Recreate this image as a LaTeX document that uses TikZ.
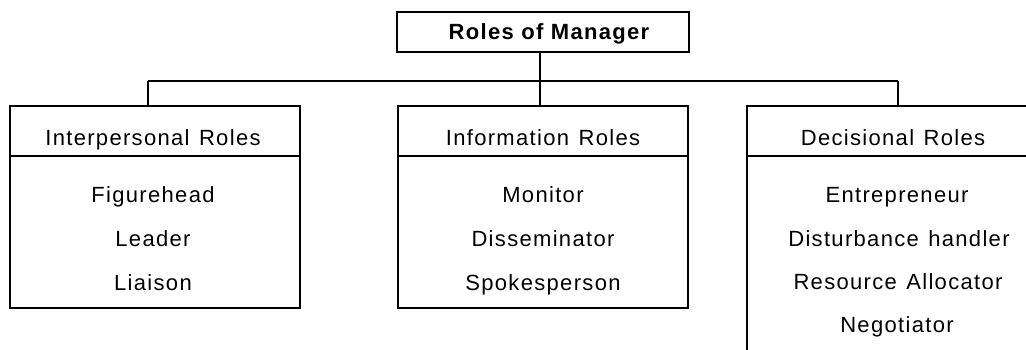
\documentclass[tikz,border=0pt]{standalone}
\usepackage{fontspec}
\setmainfont{Liberation Sans}[LetterSpace=6]
\begin{document}
\begin{tikzpicture}[x=1pt,y=-1pt,
  box/.style={draw, line width=1.7pt, rectangle, inner sep=0pt},
  lbl/.style={anchor=base, inner sep=0pt, font=\fontsize{22}{26}\selectfont},
  wire/.style={line width=1.7pt}]
\useasboundingbox (0,0) rectangle (1026,350);
% boxes
\node[box, minimum width=292pt, minimum height=40pt] (T) at (543,32) {};
\node[box, minimum width=290pt, minimum height=202pt] (L) at (155,207) {};
\node[box, minimum width=290pt, minimum height=202pt] (M) at (543,207) {};
\node[box, minimum width=300pt, minimum height=280pt] (R) at (897,246) {};
% header dividers
\coordinate (hdr) at (0,156);
\draw[wire] (L.west |- hdr) -- (L.east |- hdr);
\draw[wire] (M.west |- hdr) -- (M.east |- hdr);
\draw[wire] (R.west |- hdr) -- (R.east |- hdr);
% connectors
\coordinate (bus) at (540,81);
\coordinate (jL) at (148,81);
\coordinate (jR) at (898,81);
\draw[wire] (jL) -- (jR);
\draw[wire] (bus |- T.south) -- (bus |- M.north);
\draw[wire] (jL) -- (jL |- L.north);
\draw[wire] (jR) -- (jR |- R.north);
% texts
\node[lbl, font=\fontsize{22}{26}\selectfont\bfseries] (t0) at (549,40) {Roles of Manager};
\node[lbl] (l0) at (153,146) {Interpersonal\hspace{2pt} Roles};
\node[lbl] (l1) at (153,202) {Figurehead};
\node[lbl] (l2) at (153,246) {Leader};
\node[lbl] (l3) at (153,290) {Liaison};
\node[lbl] (m0) at (543,146) {Information\hspace{2pt} Roles};
\node[lbl] (m1) at (543,202) {Monitor};
\node[lbl] (m2) at (543,246) {Disseminator};
\node[lbl] (m3) at (543,290) {Spokesperson};
\node[lbl] (r0) at (893,146) {Decisional\hspace{2pt} Roles};
\node[lbl] (r1) at (897,202) {Entrepreneur};
\node[lbl] (r2) at (899,246) {Disturbance\hspace{2pt} handler};
\node[lbl] (r3) at (898,289) {Resource\hspace{2pt} Allocator};
\node[lbl] (r4) at (897,332) {Negotiator};
\end{tikzpicture}
\end{document}
